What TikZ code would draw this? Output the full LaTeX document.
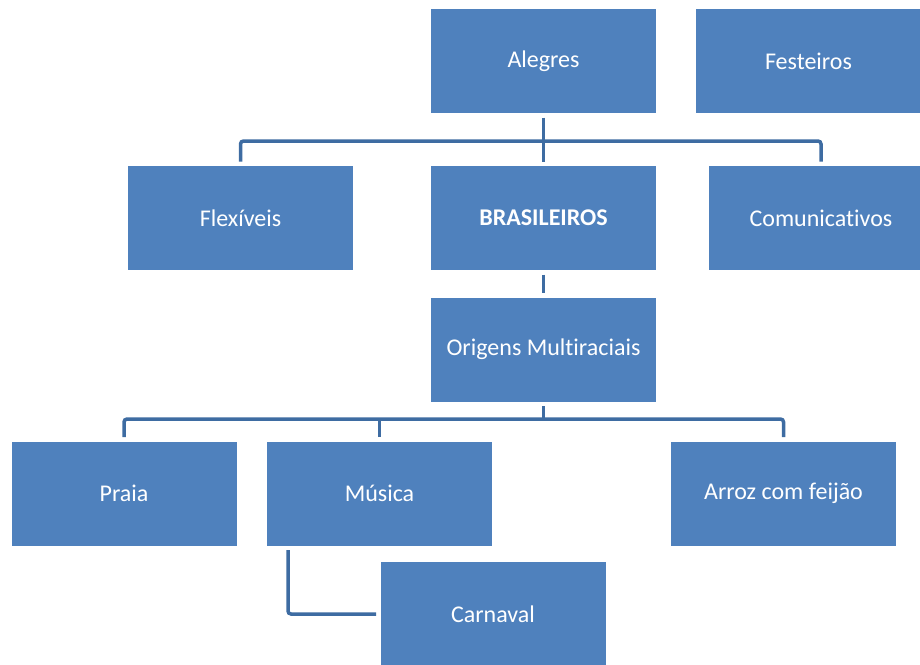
\documentclass[tikz,border=0pt]{standalone}
\usepackage{fontspec}
\setmainfont{Carlito}[Ligatures={NoCommon}]
\definecolor{boxblue}{RGB}{79,129,189}
\definecolor{lineblue}{RGB}{62,108,162}

\begin{document}
\begin{tikzpicture}[x=1pt,y=-1pt,
  box/.style={fill=boxblue,text=white,minimum width=225pt,minimum height=104pt,
    inner sep=0pt,outer sep=4.5pt,font=\fontsize{24}{28}\selectfont},
  link/.style={draw=lineblue,line width=3.5pt,rounded corners=3pt}]
\useasboundingbox (0,0) rectangle (920,664);
\node[box] (alegres) at (543.5, 61) {Alegres};
\node[box] (festeiros) at (808.5, 61) {Festeiros};
\node[box] (flexiveis) at (240.5, 218) {Flexíveis};
\node[box,font=\fontsize{24}{28}\selectfont\bfseries] (brasileiros) at (543.5, 218) {BRASILEIROS};
\node[box] (comunicativos) at (821, 218) {Comunicativos};
\node[box] (origens) at (543.5, 349.5) {Origens Multiraciais};
\node[box] (praia) at (124, 493.5) {Praia};
\node[box] (musica) at (379.5, 493.5) {Música};
\node[box] (arroz) at (783.5, 493.5) {Arroz com feijão};
\node[box] (carnaval) at (493, 614) {Carnaval};
\coordinate (bus1) at (543.5, 141);
\coordinate (bus2) at (543.5, 419);
\draw[link] (alegres.south) -- (bus1);
\draw[link] (flexiveis.north) |- (bus1) -| (comunicativos.north);
\draw[link] (bus1) -- (brasileiros.north);
\draw[link] (brasileiros.south) -- (origens.north);
\draw[link] (origens.south) -- (bus2);
\draw[link] (praia.north) |- (bus2) -| (arroz.north);
\draw[link] (musica.north) -- (musica.north |- bus2);
\draw[link] ([xshift=-91.5pt]musica.south) |- (carnaval.west);
\end{tikzpicture}
\end{document}
